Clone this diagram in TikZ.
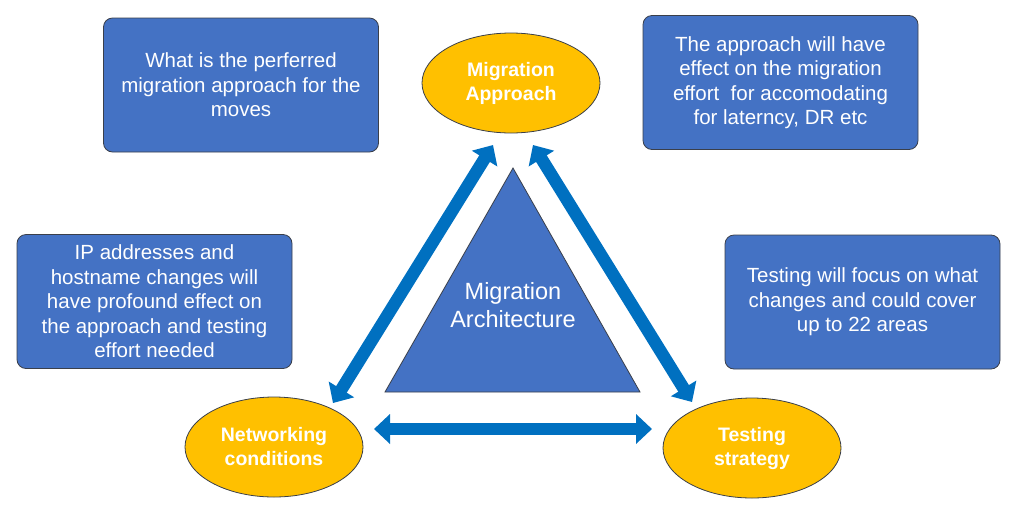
\documentclass[tikz,border=0pt]{standalone}
\usepackage{fontspec}
\setmainfont{Liberation Sans}
\usetikzlibrary{arrows.meta,shapes.geometric}
\definecolor{boxblue}{HTML}{4472C4}
\definecolor{boxedge}{HTML}{3A3F4A}
\definecolor{gold}{HTML}{FFC000}
\definecolor{arrowblue}{HTML}{0070C0}
\begin{document}
\begin{tikzpicture}[x=1pt,y=-1pt,
  infobox/.style={draw=boxedge, line width=0.8pt, fill=boxblue, rounded corners=9pt,
    text=white, align=center, font=\fontsize{20.5}{24.5}\selectfont, inner sep=0pt,
    minimum width=275pt, minimum height=134pt},
  topic/.style={ellipse, draw=boxedge, line width=0.8pt, fill=gold, text=white, align=center,
    font=\bfseries\fontsize{19.5}{24}\selectfont, minimum width=178pt, minimum height=100pt, inner sep=0pt},
  bigarrow/.style={draw=arrowblue, line width=12.5pt,
    {Triangle[length=16pt,width=29pt]}-{Triangle[length=16pt,width=29pt]}},
  tri/.style={draw=boxedge, line width=0.8pt, fill=boxblue}
]
\useasboundingbox (0,0) rectangle (1024,512);

% info boxes
\node[infobox] (b1) at (241,85) {What is the perferred\\migration approach for the\\moves};
\node[infobox] (b2) at (780.5,82.5) {The approach will have\\ effect on the migration\\effort\ \ for accomodating\\for laterncy, DR etc};
\node[infobox] (b3) at (154.5,301.5) {IP addresses and\\hostname changes will\\have profound effect on\\the approach and testing\\effort needed};
\node[infobox] (b4) at (862.5,302) {Testing will focus on what\\changes and could cover\\up to 22 areas};

% central triangle
\coordinate (tA) at (513,168);
\coordinate (tB) at (385,392);
\coordinate (tC) at (640,392);
\draw[tri] (tA) -- (tB) -- (tC) -- cycle;
\node[text=white, align=center, font=\fontsize{23.5}{28}\selectfont] (arch) at (513,305) {Migration\\Architecture};

% topics
\node[topic] (app) at (511,83) {Migration\\Approach};
\node[topic] (net) at (274,447) {Networking\\conditions};
\node[topic] (tst) at (752,448) {Testing\\strategy};

% arrow ends
\coordinate (l1) at (333,403);
\coordinate (l2) at (493,145);
\coordinate (r1) at (533,145);
\coordinate (r2) at (692,402);
\coordinate (h1) at (374,429);
\coordinate (h2) at (652,429);

\draw[bigarrow] (l1) -- (l2);
\draw[bigarrow] (r1) -- (r2);
\draw[bigarrow] (h1) -- (h2);
\end{tikzpicture}
\end{document}
